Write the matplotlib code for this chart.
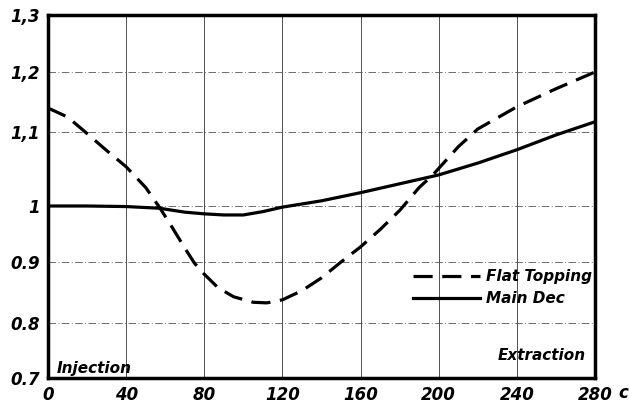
import numpy as np
import matplotlib
matplotlib.use("Agg")
import matplotlib.pyplot as plt

# ---- data ----
main_x = [0, 20, 40, 57, 70, 80, 90, 100, 110, 120, 140, 160, 180, 200, 220, 240, 260, 280]
main_y = [1.0, 1.0, 0.999, 0.996, 0.989, 0.986, 0.984, 0.984, 0.99, 0.998, 1.007,
          1.018, 1.03, 1.042, 1.058, 1.076, 1.096, 1.117]

flat_x = [0, 10, 18, 30, 40, 50, 57, 63, 70, 75, 80, 87, 95, 105, 112, 120, 130,
          140, 150, 160, 170, 180, 190, 197, 210, 220, 240, 260, 280]
flat_y = [1.14, 1.125, 1.103, 1.075, 1.053, 1.025, 0.998, 0.965, 0.925, 0.898,
          0.88, 0.858, 0.843, 0.834, 0.833, 0.838, 0.853, 0.874, 0.9, 0.927,
          0.958, 0.992, 1.025, 1.042, 1.08, 1.105, 1.142, 1.172, 1.2]

x_ticks = [0, 40, 80, 120, 160, 200, 240, 280]
x_labels = ["0", "40", "80", "120", "160", "200", "240", "280"]
y_ticks = [0.7, 0.8, 0.9, 1.0, 1.1, 1.2, 1.3]
y_labels = ["0.7", "0.8", "0.9", "1", "1,1", "1,2", "1,3"]

# the original y axis was drawn by hand with uneven spacing
y_pos = [0, 55, 116, 172, 246, 306, 363]


def fwd(v):
    return np.interp(v, y_ticks, y_pos)


def inv(p):
    return np.interp(p, y_pos, y_ticks)


font = dict(family="DejaVu Sans", style="italic", weight="bold")

fig = plt.figure(figsize=(6.29, 4.05), dpi=100)
ax = fig.add_axes([48 / 629, 27 / 405, 547 / 629, 363 / 405])
ax.set_yscale("function", functions=(fwd, inv))

ax.plot(flat_x, flat_y, color="black", lw=2.3, dashes=(6, 3), label="Flat Topping")
ax.plot(main_x, main_y, color="black", lw=2.3, label="Main Dec")

ax.set_xlim(0, 280)
ax.set_ylim(0.7, 1.3)
ax.set_xticks(x_ticks)
ax.set_xticklabels(x_labels, fontsize=12, **font)
ax.set_yticks(y_ticks)
ax.set_yticklabels(y_labels, fontsize=12, **font)
ax.tick_params(length=0, pad=6)

ax.grid(True, axis="x", color="#333333", lw=0.6)
ax.grid(True, axis="y", color="#555555", lw=0.6, linestyle=(0, (9, 3, 1, 3)))

for s in ax.spines.values():
    s.set_linewidth(2.5)

ax.text(4.6, 0.709, "Injection", fontsize=11, va="baseline", **font)
ax.text(275.4, 0.733, "Extraction", fontsize=11, ha="right", va="baseline", **font)
ax.text(1.042, -0.017, "c", transform=ax.transAxes, fontsize=12, va="top", **font)

leg = ax.legend(loc="lower right", bbox_to_anchor=(1.02, 0.16), frameon=False,
                handlelength=4.4, handletextpad=0.4, labelspacing=0.45,
                prop=dict(size=11, style="italic", weight="bold"))

fig.savefig("out.png", dpi=100)
